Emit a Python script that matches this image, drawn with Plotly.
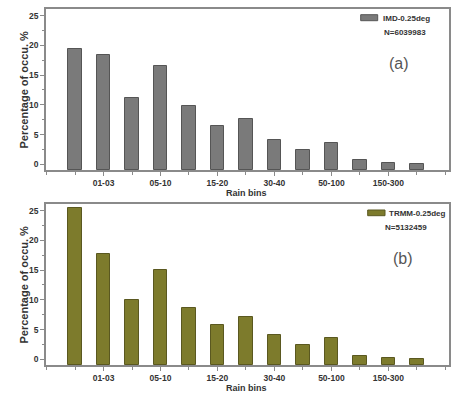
import plotly.graph_objects as go

categories = ["00-01", "01-03", "03-05", "05-10", "10-15", "15-20", "20-30",
              "30-40", "40-50", "50-100", "100-150", "150-300", ">300"]
imd_values = [19.4, 18.35, 11.1, 16.6, 9.8, 6.45, 7.6, 4.1, 2.4, 3.65, 0.65, 0.3, 0.12]
trmm_values = [25.5, 17.7, 9.9, 15.1, 8.7, 5.85, 7.1, 4.05, 2.4, 3.55, 0.58, 0.24, 0.12]
labeled_bins = ["01-03", "05-10", "15-20", "30-40", "50-100", "150-300"]
imd_name = "IMD-0.25deg"
trmm_name = "TRMM-0.25deg"
imd_n = "N=6039983"
trmm_n = "N=5132459"

Y_MIN, Y_MAX = -0.96, 26.12
X_MIN, X_MAX = -0.02, 14.13
W, H = 469, 398
FONT = "Liberation Sans, Arial, sans-serif"
TXT = "#333333"
FRAME = "#8a8a8a"

xpos = list(range(1, len(categories) + 1))
tickvals = [categories.index(c) + 1 for c in labeled_bins]

fig = go.Figure()
fig.add_trace(go.Bar(x=xpos, y=[v - Y_MIN for v in imd_values], base=Y_MIN,
                     width=0.47, marker=dict(color="#7a7a7a", line=dict(color="#555555", width=1)),
                     name=imd_name, showlegend=False, xaxis="x", yaxis="y"))
fig.add_trace(go.Bar(x=xpos, y=[v - Y_MIN for v in trmm_values], base=Y_MIN,
                     width=0.47, marker=dict(color="#7d7b2c", line=dict(color="#5a5820", width=1)),
                     name=trmm_name, showlegend=False, xaxis="x2", yaxis="y2"))

xdom = [46 / W, 449 / W]
def xa(anchor):
    return dict(domain=xdom, anchor=anchor, range=[X_MIN, X_MAX], tickmode="array",
                tickvals=tickvals, ticktext=labeled_bins, ticks="outside", ticklen=4,
                tickwidth=1, tickcolor=FRAME, showline=True, linecolor=FRAME, linewidth=1.5,
                mirror=True, showgrid=False, zeroline=False,
                tickfont=dict(family=FONT, size=8.5, color=TXT, weight="bold"),
                minor=dict(tickmode="linear", tick0=1, dtick=1, ticks="outside", ticklen=3,
                           tickcolor=FRAME, showgrid=False))
def ya(anchor, dom):
    return dict(domain=dom, anchor=anchor, range=[Y_MIN, Y_MAX], tickmode="linear", tick0=0,
                dtick=5, ticks="outside", ticklen=4, tickwidth=1, tickcolor=FRAME,
                showline=True, linecolor=FRAME, linewidth=1.5, mirror=True,
                showgrid=False, zeroline=False,
                tickfont=dict(family=FONT, size=8.5, color=TXT, weight="bold"),
                minor=dict(tickmode="linear", tick0=0, dtick=2.5, ticks="outside", ticklen=2,
                           tickcolor=FRAME, showgrid=False))

fig.update_layout(
    width=W, height=H, margin=dict(l=0, r=0, t=0, b=0),
    paper_bgcolor="white", plot_bgcolor="white",
    xaxis=xa("y"), yaxis=ya("x", [1 - 170 / H, 1 - 9 / H]),
    xaxis2=xa("y2"), yaxis2=ya("x2", [1 - 365 / H, 1 - 204 / H]),
    bargap=0,
)

def px(x):
    return x / W
def py(y):
    return 1 - y / H

annots = []
shapes = []
panels = [
    (360.7, 377.7, 14.7, 20.7, imd_name, 380.5, 18.5, imd_n, 381.5, 32, "(a)", 399, 63.5, "#7a7a7a", "#555555"),
    (367.7, 385.0, 210.0, 215.7, trmm_name, 386.7, 213.3, trmm_n, 382.5, 227.3, "(b)", 402.5, 258.3, "#7d7b2c", "#5a5820"),
]
for (rx0, rx1, ry0, ry1, name, nx, ny, ntxt, tx, ty, lab, lx, ly, fc, ec) in panels:
    shapes.append(dict(type="rect", xref="paper", yref="paper", x0=px(rx0), x1=px(rx1),
                       y0=py(ry1), y1=py(ry0), fillcolor=fc, line=dict(color=ec, width=1)))
    annots.append(dict(text=name, xref="paper", yref="paper", x=px(nx), y=py(ny),
                       xanchor="left", yanchor="middle", showarrow=False,
                       font=dict(family=FONT, size=8, color=TXT, weight="bold")))
    annots.append(dict(text=ntxt, xref="paper", yref="paper", x=px(tx), y=py(ty),
                       xanchor="left", yanchor="middle", showarrow=False,
                       font=dict(family=FONT, size=8, color=TXT, weight="bold")))
    annots.append(dict(text=lab, xref="paper", yref="paper", x=px(lx), y=py(ly),
                       xanchor="center", yanchor="middle", showarrow=False,
                       font=dict(family=FONT, size=16, color="#555555")))

for (cy_title, cy_x) in [(89.5, 193), (284.5, 388)]:
    annots.append(dict(text="Percentage of occu. %", xref="paper", yref="paper",
                       x=px(23), y=py(cy_title), xanchor="center", yanchor="middle",
                       textangle=-90, showarrow=False,
                       font=dict(family=FONT, size=11, color=TXT, weight="bold")))
    annots.append(dict(text="Rain bins", xref="paper", yref="paper",
                       x=px(247), y=py(cy_x), xanchor="center", yanchor="middle",
                       showarrow=False,
                       font=dict(family=FONT, size=9, color=TXT, weight="bold")))

fig.update_layout(annotations=annots, shapes=shapes)
fig.write_html("out.html", config={"displayModeBar": False},
               post_script="document.body.style.margin='0';document.body.style.overflow='hidden';")
